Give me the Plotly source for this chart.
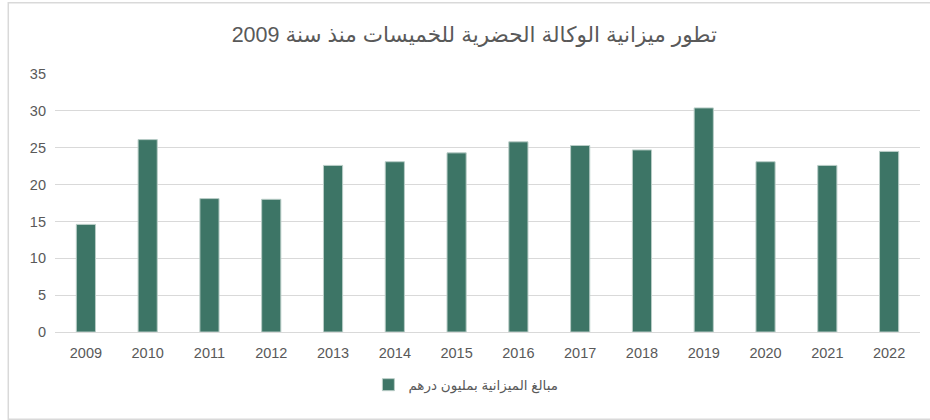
import plotly.graph_objects as go

years = ["2009", "2010", "2011", "2012", "2013", "2014", "2015", "2016",
         "2017", "2018", "2019", "2020", "2021", "2022"]
budget = [14.6, 26.1, 18.1, 18.0, 22.6, 23.1, 24.3, 25.8, 25.3, 24.7, 30.4, 23.1, 22.6, 24.5]
series_name = "مبالغ الميزانية بمليون درهم"
title_text = "تطور ميزانية الوكالة الحضرية للخميسات منذ سنة 2009"
y_ticks = [0, 5, 10, 15, 20, 25, 30, 35]

font_family = "Liberation Sans, DejaVu Sans, Arial, sans-serif"

fig = go.Figure()
fig.add_trace(go.Bar(
    x=years, y=budget, name=series_name,
    marker=dict(color="#3d7566", line=dict(color="#b9cdc7", width=1)),
))

fig.update_layout(
    template="none",
    width=930, height=420,
    margin=dict(l=55, r=10, t=74, b=88, autoexpand=False),
    paper_bgcolor="white", plot_bgcolor="white",
    bargap=0.69,
    title=dict(text=title_text, x=0.51, xanchor="center", y=0.917, yanchor="middle",
               font=dict(family=font_family, size=21.5, color="#595959")),
    font=dict(family=font_family, size=13, color="#595959"),
    showlegend=True,
    legend=dict(orientation="h", x=0.475, xanchor="center", y=-0.205, yanchor="middle",
                font=dict(family=font_family, size=13.5, color="#595959")),
    xaxis=dict(type="category", showgrid=False, showline=False, ticks="", automargin=False,
               ticklabelstandoff=10,
               tickfont=dict(size=14.5, color="#595959")),
    yaxis=dict(range=[0, 35], tickvals=y_ticks, showgrid=True, gridcolor="#d9d9d9",
               gridwidth=1, zeroline=True, zerolinecolor="#d9d9d9", zerolinewidth=1,
               showline=False, ticks="", automargin=False, ticklabelstandoff=8,
               tickfont=dict(size=14.5, color="#595959")),
    shapes=[dict(type="rect", xref="paper", yref="paper",
                 x0=-0.054, x1=1.06, y0=-0.338, y1=1.276,
                 line=dict(color="#d9d9d9", width=1.5), fillcolor="rgba(0,0,0,0)",
                 layer="below")],
)

fig.write_html("out.html",
               config={"displayModeBar": False},
               post_script="document.body.style.margin='0';document.body.style.overflow='hidden';")
